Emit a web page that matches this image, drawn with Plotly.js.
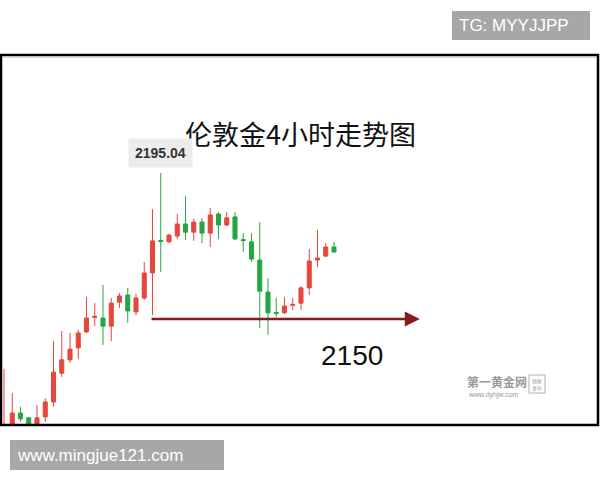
<!DOCTYPE html>
<html>
<head>
<meta charset="utf-8">
<script src="https://cdn.plot.ly/plotly-3.0.1.min.js"></script>
<style>html,body{margin:0;padding:0;background:#fff;}#chart{width:600px;height:480px;}</style>
</head>
<body>
<div id="chart"></div>
<script>
// ---- data (4-hour London gold candles) ----
const candleIndex = [0,1,2,3,4,5,6,7,8,9,10,11,12,13,14,15,16,17,18,19,20,21,22,23,24,25,26,27,28,29,30,31,32,33,34,35,36,37,38,39,40];
const openPrices  = [2110,2115,2121.0,2119.5,2116,2119.8,2124.4,2133.3,2137.4,2141.1,2146.0,2150.5,2150.3,2147.8,2155.2,2157.4,2152.2,2156.5,2164.2,2174.2,2173.8,2175.6,2179.3,2176.8,2179.9,2176.5,2182.4,2179.0,2181.5,2174.5,2173.8,2168.2,2158.3,2152.0,2151.9,2154.2,2154.9,2159.6,2168.2,2169.4,2172.2];
const highPrices  = [2134.6,2127.2,2122.9,2119.8,2123.5,2125.6,2143.2,2146.3,2145.7,2146.6,2156.8,2154.9,2160.5,2156.5,2158.0,2159.6,2157.7,2167.6,2183.9,2195.04,2176.2,2182.4,2187.9,2180.9,2181.2,2184.2,2183.0,2183.0,2183.0,2176.5,2176.5,2179.9,2162.6,2156.5,2156.8,2156.5,2160.2,2171.6,2177.5,2173.4,2173.8];
const lowPrices   = [2108,2113,2118.2,2115,2115,2118.2,2122.9,2132.1,2136.4,2137.7,2145.7,2147.8,2142.0,2143.2,2153.4,2148.8,2151.2,2155.9,2151.2,2164.5,2173.4,2174.7,2174.4,2174.1,2173.4,2172.2,2174.7,2178.7,2174.4,2170.7,2167.6,2147.2,2145.1,2150.6,2151.5,2152.8,2152.8,2157.4,2166.0,2169.1,2170.4];
const closePrices = [2116,2121.0,2119.2,2116.0,2119.5,2124.4,2133.6,2137.4,2140.7,2145.7,2150.3,2150.8,2147.8,2154.9,2157.1,2152.5,2156.5,2164.2,2174.1,2173.9,2175.9,2179.3,2176.8,2179.9,2176.5,2182.1,2179.0,2181.2,2174.7,2174.2,2168.5,2158.6,2151.9,2151.7,2154.0,2154.5,2159.6,2167.9,2168.8,2172.2,2170.7];

const chartTitle = "伦敦金4小时走势图";
const peakLabel = "2195.04";
const peakIndex = 19;
const peakPrice = 2195.04;
const supportLabel = "2150";
const supportPrice = 2150;
const supportFrom = 17.7;
const supportTo = 50.4;
const topTag = "TG: MYYJJPP";
const bottomTag = "www.mingjue121.com";
const watermarkName = "第一黄金网";
const watermarkUrl = "www.dyhjw.com";

// ---- layout helpers (pixel -> paper) ----
const W = 600, H = 480;
const L = 2, R = 3, T = 57, B = 56;
const PW = W - L - R, PH = H - T - B;
const px = x => (x - L) / PW;
const py = y => (H - B - y) / PH;

const trace = {
  type: 'candlestick',
  x: candleIndex,
  open: openPrices, high: highPrices, low: lowPrices, close: closePrices,
  increasing: {line: {color: '#e5473b', width: 1}, fillcolor: '#e5473b'},
  decreasing: {line: {color: '#25a544', width: 1}, fillcolor: '#25a544'},
  whiskerwidth: 0,
  hoverinfo: 'none'
};

const layout = {
  width: W, height: H,
  margin: {l: L, r: R, t: T, b: B, pad: 0},
  paper_bgcolor: '#ffffff', plot_bgcolor: '#ffffff',
  showlegend: false,
  boxgap: 0.3,
  xaxis: {type: 'linear', range: [-0.242, 71.88], showgrid: false, zeroline: false,
          showticklabels: false, ticks: '', showline: false, rangeslider: {visible: false}, fixedrange: true},
  yaxis: {range: [2117.61, 2230.83], showgrid: false, zeroline: false,
          showticklabels: false, ticks: '', showline: false, fixedrange: true},
  shapes: [
    // frame
    {type: 'rect', xref: 'paper', yref: 'paper', x0: px(1), x1: px(598), y0: py(55), y1: py(425),
     line: {color: '#000', width: 2.5}, fillcolor: 'rgba(0,0,0,0)', layer: 'above'},
    {type: 'line', xref: 'paper', yref: 'paper', x0: px(3), x1: px(596), y0: py(57.5), y1: py(57.5),
     line: {color: '#d8d8d8', width: 1}},
    // tag boxes
    {type: 'rect', xref: 'paper', yref: 'paper', x0: px(452), x1: px(590), y0: py(11), y1: py(40),
     line: {width: 0}, fillcolor: '#a7a7a7'},
    {type: 'rect', xref: 'paper', yref: 'paper', x0: px(10), x1: px(224), y0: py(440), y1: py(470),
     line: {width: 0}, fillcolor: '#a7a7a7'},
    // peak label pointer
    {type: 'path', xref: 'paper', yref: 'paper',
     path: `M ${px(155)} ${py(162)} L ${px(161)} ${py(168)} L ${px(167)} ${py(162)} Z`,
     line: {width: 0}, fillcolor: '#ececec'},
    // watermark badge
    {type: 'rect', xref: 'paper', yref: 'paper', x0: px(529), x1: px(545), y0: py(375), y1: py(393),
     line: {color: '#b0b0b0', width: 1}, fillcolor: 'rgba(0,0,0,0)'}
  ],
  annotations: [
    {xref: 'paper', yref: 'paper', x: px(300), y: py(133), text: chartTitle, showarrow: false,
     font: {family: 'Noto Sans CJK SC, sans-serif', size: 27, color: '#111'}, xanchor: 'center', yanchor: 'middle'},
    {xref: 'x', yref: 'y', x: peakIndex, y: peakPrice, text: '<b>' + peakLabel + '</b>', showarrow: false,
     yanchor: 'bottom', yshift: 5, bgcolor: '#ececec', borderpad: 6,
     font: {family: 'Liberation Sans, Arial, sans-serif', size: 14, color: '#333'}},
    {xref: 'x', yref: 'y', x: supportTo, y: supportPrice, ax: supportFrom, ay: supportPrice,
     axref: 'x', ayref: 'y', text: '', showarrow: true, arrowhead: 2, arrowsize: 1.2,
     arrowwidth: 2.5, arrowcolor: '#861b1e', standoff: 0},
    {xref: 'paper', yref: 'paper', x: px(352), y: py(355), text: supportLabel, showarrow: false,
     font: {family: 'Liberation Sans, Arial, sans-serif', size: 28, color: '#111'}, xanchor: 'center', yanchor: 'middle'},
    {xref: 'paper', yref: 'paper', x: px(457), y: py(25.5), text: topTag, showarrow: false,
     font: {family: 'Liberation Sans, Arial, sans-serif', size: 17, color: '#fff'}, xanchor: 'left', yanchor: 'middle'},
    {xref: 'paper', yref: 'paper', x: px(15), y: py(455), text: bottomTag, showarrow: false,
     font: {family: 'Liberation Sans, Arial, sans-serif', size: 17, color: '#fff'}, xanchor: 'left', yanchor: 'middle'},
    {xref: 'paper', yref: 'paper', x: px(465), y: py(381), text: '<b>' + watermarkName + '</b>', showarrow: false,
     font: {family: 'Noto Sans CJK SC, sans-serif', size: 12, color: '#9a9a9a'}, xanchor: 'left', yanchor: 'middle'},
    {xref: 'paper', yref: 'paper', x: px(466), y: py(395), text: watermarkUrl, showarrow: false,
     font: {family: 'Liberation Sans, Arial, sans-serif', size: 7, color: '#9a9a9a'}, xanchor: 'left', yanchor: 'middle'},
    {xref: 'paper', yref: 'paper', x: px(537), y: py(384), text: '独家<br>发布', showarrow: false,
     font: {family: 'Noto Sans CJK SC, sans-serif', size: 5, color: '#a0a0a0'}, xanchor: 'center', yanchor: 'middle'}
  ]
};

Plotly.newPlot('chart', [trace], layout, {staticPlot: true, displayModeBar: false});
</script>
</body>
</html>
